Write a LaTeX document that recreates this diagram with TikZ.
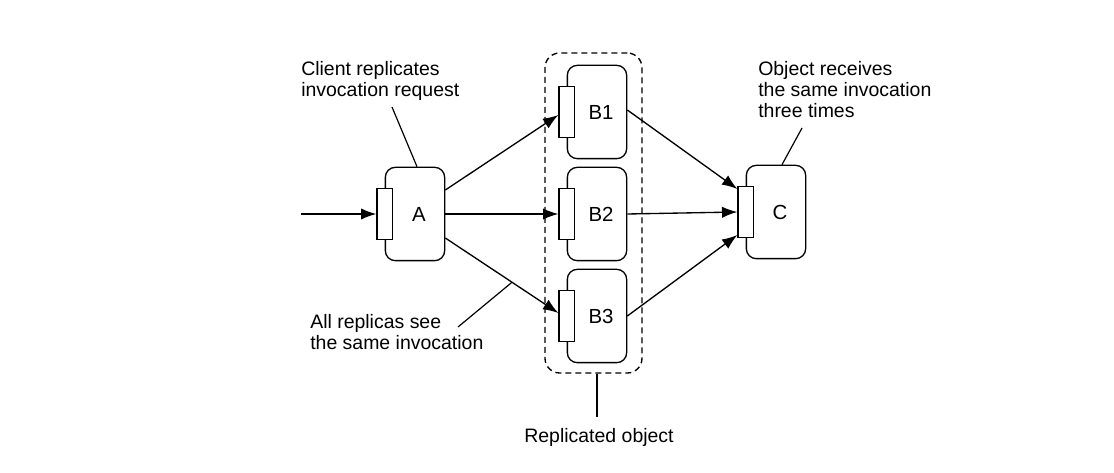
\documentclass[tikz,border=0pt]{standalone}
\usepackage{fontspec}
\setmainfont{Liberation Sans}
\usetikzlibrary{arrows.meta,calc}
\tikzset{
  obj/.style={draw, line width=1pt, rounded corners=7.5pt, minimum width=44.5pt, minimum height=70pt, inner sep=0pt, fill=white, font=\fontsize{15.3}{17}\selectfont},
  port/.style={draw, line width=1pt, minimum width=11.5pt, minimum height=38pt, inner sep=0pt, fill=white},
  arr/.style={line width=1pt, -{Latex[length=11.5pt,width=8.5pt]}},
  lead/.style={line width=0.9pt},
  note/.style={align=left, inner sep=0pt, font=\fontsize{14.6}{15.8}\selectfont},
  repbox/.style={draw, line width=1pt, dash pattern=on 4.5pt off 3pt, rounded corners=11pt, minimum width=72.75pt, minimum height=240pt, inner sep=0pt}
}
\begin{document}
\begin{tikzpicture}[x=0.75pt,y=-0.75pt]
\useasboundingbox (0,0) rectangle (1114,473);
% replicated object group
\node[repbox] (rep) at (593.5,213) {};
% objects
\node[obj] (boxA) at (415,214) {\hspace*{6pt}A};
\node[port] (portA) at (boxA.west) {};
\node[obj] (boxB1) at (597,112) {\hspace*{6pt}B1};
\node[port] (portB1) at (boxB1.west) {};
\node[obj] (boxB2) at (597,214) {\hspace*{6pt}B2};
\node[port] (portB2) at (boxB2.west) {};
\node[obj] (boxB3) at (597,316) {\hspace*{6pt}B3};
\node[port] (portB3) at (boxB3.west) {};
\node[obj] (boxC) at (776,212) {\hspace*{6pt}C};
\node[port] (portC) at (boxC.west) {};
% incoming
\coordinate (in) at (301,214);
\draw[arr] (in) -- (portA.west);
% A to replicas
\draw[arr] ($(boxA.east)+(0,-24)$) -- ($(portB1.west)+(0,3)$);
\draw[arr] (boxA.east) -- (portB2.west);
\draw[arr] ($(boxA.east)+(0,24)$) -- coordinate[pos=0.59] (mid) ($(portB3.west)+(0,-3)$);
% replicas to C
\draw[arr] ($(boxB1.east)+(0,-2)$) -- ($(portC.west)+(0,-23)$);
\draw[arr] (boxB2.east) -- (portC.west);
\draw[arr] (boxB3.east) -- ($(portC.west)+(0,23)$);
% notes (base anchor = baseline of last line)
\node[note, anchor=base west] (n1) at (301,97) {Client replicates\\invocation request};
\node[note, anchor=base west] (n2) at (758,118) {Object receives\\the same invocation\\three times};
\node[note, anchor=base west] (n3) at (310,350) {All replicas see\\the same invocation};
\node[note, anchor=base] (n4) at (599,443) {Replicated object};
% leaders
\coordinate (l1) at (392,107);
\draw[lead] (l1) -- ($(boxA.north)+(2,0)$);
\coordinate (l2) at (802,128);
\draw[lead] (l2) -- ($(boxC.north)+(6,0)$);
\coordinate (l3) at (458,327);
\draw[lead] (l3) -- (mid);
\coordinate (l4) at (597,417);
\draw[lead] ($(rep.south)+(3.5,0)$) -- (l4);
\end{tikzpicture}
\end{document}
